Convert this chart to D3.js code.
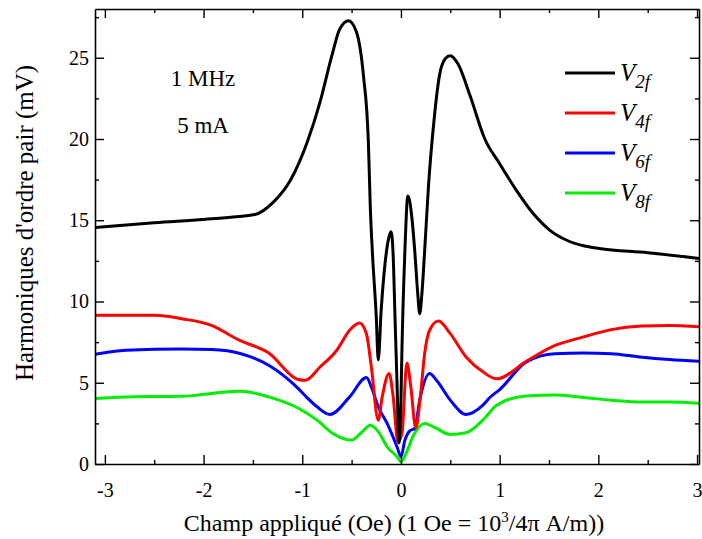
<!DOCTYPE html>
<html>
<head>
<meta charset="utf-8">
<script src="https://cdn.jsdelivr.net/npm/d3@7"></script>
<style>
  body { margin: 0; background: #fff; }
  svg { font-family: "Liberation Serif", "DejaVu Serif", serif; }
</style>
</head>
<body>
<div id="chart"></div>
<script>
// field values (Oe) and harmonic amplitudes (mV)
var v2fX = [-3.10, -2.5, -2.0, -1.7, -1.48, -1.29, -1.12, -0.95, -0.82, -0.70, -0.62, -0.53, -0.45, -0.38, -0.33, -0.31, -0.29, -0.25, -0.23, -0.20, -0.16, -0.12, -0.10, -0.08, -0.06, -0.04, -0.02, 0.0, 0.01, 0.04, 0.07, 0.11, 0.14, 0.17, 0.19, 0.21, 0.24, 0.28, 0.33, 0.39, 0.45, 0.50, 0.58, 0.70, 0.85, 1.0, 1.17, 1.34, 1.51, 1.68, 1.85, 2.01, 2.5, 3.02];
var v2fY = [14.55, 14.85, 15.05, 15.2, 15.35, 16.13, 17.46, 19.8, 22.27, 25.13, 26.77, 27.28, 26.57, 23.9, 19.8, 15.7, 13.1, 9.05, 6.4, 9.5, 12.4, 14.0, 14.3, 13.0, 9.0, 5.0, 1.3, 4.0, 7.0, 13.1, 16.5, 15.2, 13.1, 10.5, 9.25, 10.3, 13.1, 17.2, 20.83, 23.9, 24.95, 25.13, 24.6, 22.67, 20.0, 18.48, 16.84, 15.41, 14.38, 13.77, 13.43, 13.26, 13.0, 12.65];

var v4fX = [-3.10, -2.49, -2.22, -1.92, -1.65, -1.34, -1.04, -0.97, -0.82, -0.65, -0.52, -0.42, -0.35, -0.30, -0.23, -0.19, -0.12, -0.08, -0.03, 0.01, 0.06, 0.10, 0.15, 0.20, 0.24, 0.29, 0.38, 0.50, 0.66, 0.83, 0.97, 1.27, 1.54, 1.85, 2.13, 2.44, 2.72, 3.04];
var v4fY = [9.15, 9.15, 8.94, 8.53, 7.65, 6.83, 5.2, 5.15, 5.97, 7.0, 8.23, 8.67, 8.02, 5.97, 2.70, 4.13, 5.57, 4.2, 1.37, 1.88, 6.22, 4.74, 2.22, 4.34, 6.79, 8.23, 8.80, 8.02, 6.59, 5.67, 5.24, 6.32, 7.24, 7.82, 8.27, 8.49, 8.53, 8.43];

var v6fX = [-3.10, -2.79, -2.22, -1.92, -1.63, -1.34, -1.04, -0.97, -0.85, -0.72, -0.52, -0.35, -0.30, -0.23, -0.14, -0.04, 0.0, 0.04, 0.09, 0.14, 0.19, 0.29, 0.36, 0.50, 0.66, 0.83, 0.90, 1.0, 1.27, 1.56, 1.85, 2.13, 2.42, 2.72, 3.04];
var v6fY = [6.75, 7.0, 7.08, 7.04, 6.8, 6.08, 4.64, 4.2, 3.52, 3.05, 4.13, 5.32, 4.74, 3.52, 2.50, 1.06, 0.45, 1.47, 2.04, 2.19, 3.93, 5.57, 5.16, 3.93, 3.05, 3.62, 4.09, 4.58, 6.28, 6.79, 6.83, 6.79, 6.59, 6.43, 6.32];

var v8fX = [-3.10, -2.79, -2.22, -1.92, -1.63, -1.34, -1.03, -0.85, -0.69, -0.50, -0.41, -0.31, -0.23, -0.14, -0.04, 0.0, 0.06, 0.12, 0.24, 0.33, 0.50, 0.66, 0.83, 0.97, 1.27, 1.56, 1.85, 2.13, 2.44, 2.72, 3.04];
var v8fY = [4.03, 4.13, 4.17, 4.34, 4.48, 4.13, 3.4, 2.70, 1.88, 1.47, 1.88, 2.39, 1.99, 1.06, 0.45, 0.14, 0.76, 1.68, 2.50, 2.29, 1.82, 1.92, 2.70, 3.62, 4.19, 4.24, 4.09, 3.93, 3.81, 3.81, 3.73];

var seriesNames = ["2f", "4f", "6f", "8f"];
var seriesColors = ["#000000", "#ff0000", "#0000ff", "#00ee00"];
var xTicks = [-3, -2, -1, 0, 1, 2, 3];
var yTicks = [0, 5, 10, 15, 20, 25];
var notes = ["1 MHz", "5 mA"];

var W = 702, H = 539;
var margin = {top: 9, right: 3, bottom: 75, left: 95};
var width = W - margin.left - margin.right,
    height = H - margin.top - margin.bottom;

var svg = d3.select("#chart").append("svg")
    .attr("width", W)
    .attr("height", H);

var g = svg.append("g")
    .attr("transform", "translate(" + margin.left + "," + margin.top + ")");

var x = d3.scaleLinear().domain([-3.10, 3.02]).range([0, width]);
var y = d3.scaleLinear().domain([0, 28]).range([height, 0]);

g.append("clipPath").attr("id", "clip")
    .append("rect").attr("width", width).attr("height", height);

////////// curves //////////
var allX = [v2fX, v4fX, v6fX, v8fX],
    allY = [v2fY, v4fY, v6fY, v8fY];

var line = d3.line()
    .x(function (d) { return x(d[0]); })
    .y(function (d) { return y(d[1]); })
    .curve(d3.curveMonotoneX);

var curves = g.append("g").attr("clip-path", "url(#clip)");
// draw from the last series to the first so black sits on top
for (var i = allX.length - 1; i >= 0; i--) {
    var pts = d3.zip(allX[i], allY[i]);
    curves.append("path")
        .datum(pts)
        .attr("fill", "none")
        .attr("stroke", seriesColors[i])
        .attr("stroke-width", 3)
        .attr("stroke-linejoin", "round")
        .attr("d", line);
}

////////// axes //////////
var xMinor = d3.range(-3, 3.01, 0.5).filter(function (d) { return Math.abs(d % 1) > 0.1; });
var yMinor = d3.range(2.5, 28, 5);

function styleAxis(sel) {
    sel.selectAll("path").attr("stroke", "#000").attr("stroke-width", 1.6);
    sel.selectAll("line").attr("stroke", "#000").attr("stroke-width", 1.4);
    sel.selectAll("text").attr("fill", "#000").style("font-size", "20px")
        .style("font-family", "'Liberation Serif', serif");
}

// bottom
g.append("g").attr("transform", "translate(0," + height + ")")
    .call(d3.axisBottom(x).tickValues(xTicks).tickSizeInner(-9).tickSizeOuter(0).tickPadding(19)
        .tickFormat(String))
    .call(styleAxis);
g.append("g").attr("transform", "translate(0," + height + ")")
    .call(d3.axisBottom(x).tickValues(xMinor).tickSize(-4).tickFormat(""))
    .call(styleAxis).select(".domain").remove();
// top
g.append("g")
    .call(d3.axisTop(x).tickValues(xTicks).tickSizeInner(-9).tickSizeOuter(0).tickFormat(""))
    .call(styleAxis);
g.append("g")
    .call(d3.axisTop(x).tickValues(xMinor).tickSize(-4).tickFormat(""))
    .call(styleAxis).select(".domain").remove();
// left
g.append("g")
    .call(d3.axisLeft(y).tickValues(yTicks).tickSizeInner(-9).tickSizeOuter(0).tickPadding(6))
    .call(styleAxis);
g.append("g")
    .call(d3.axisLeft(y).tickValues(yMinor).tickSize(-4).tickFormat(""))
    .call(styleAxis).select(".domain").remove();
// right
g.append("g").attr("transform", "translate(" + width + ",0)")
    .call(d3.axisRight(y).tickValues(yTicks).tickSizeInner(-9).tickSizeOuter(0).tickFormat(""))
    .call(styleAxis);
g.append("g").attr("transform", "translate(" + width + ",0)")
    .call(d3.axisRight(y).tickValues(yMinor).tickSize(-4).tickFormat(""))
    .call(styleAxis).select(".domain").remove();

////////// labels //////////
var xl = svg.append("text")
    .attr("x", margin.left + width / 2 - 3)
    .attr("y", 531)
    .attr("text-anchor", "middle")
    .style("font-size", "24px");
xl.append("tspan").text("Champ appliqué (Oe) (1 Oe = 10");
xl.append("tspan").attr("dy", -9).style("font-size", "15px").text("3");
xl.append("tspan").attr("dy", 9).text("/4π A/m))");

svg.append("text")
    .attr("transform", "translate(33,223) rotate(-90)")
    .attr("text-anchor", "middle")
    .style("font-size", "25px")
    .text("Harmoniques d'ordre pair (mV)");

svg.selectAll(".note")
    .data(notes)
    .enter().append("text")
    .attr("class", "note")
    .attr("x", 203)
    .attr("y", function (d, i) { return 86 + i * 47; })
    .attr("text-anchor", "middle")
    .style("font-size", "23px")
    .text(function (d) { return d; });

////////// legend //////////
var legend = svg.append("g").attr("transform", "translate(565,73)");
var items = legend.selectAll("g")
    .data(seriesNames)
    .enter().append("g")
    .attr("transform", function (d, i) { return "translate(0," + i * 40 + ")"; });
items.append("line")
    .attr("x1", 0).attr("x2", 50)
    .attr("stroke", function (d, i) { return seriesColors[i]; })
    .attr("stroke-width", 3);
var lt = items.append("text")
    .attr("x", 55)
    .attr("y", 8)
    .style("font-style", "italic")
    .style("font-size", "25px");
lt.append("tspan").text("V");
lt.append("tspan").attr("dy", 7).style("font-size", "19px").text(function (d) { return d; });
</script>
</body>
</html>
